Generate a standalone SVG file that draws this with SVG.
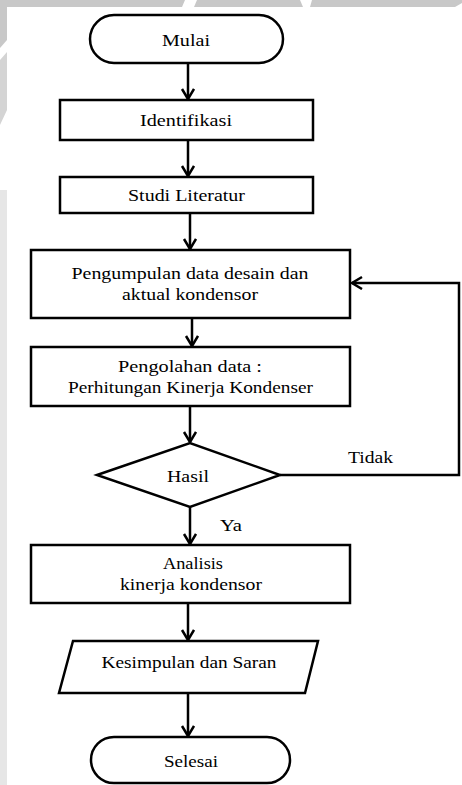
<svg xmlns="http://www.w3.org/2000/svg" width="462" height="785" viewBox="0 0 462 785">
<style>
.shape{fill:#fff;stroke:#000;stroke-width:2.5}
.conn{fill:none;stroke:#000;stroke-width:2.5}
text{font-family:"Liberation Serif","Times New Roman",serif;font-size:17px;fill:#000;text-anchor:middle}
.lbl{text-anchor:start}
</style>
<defs>
<marker id="arr" markerUnits="userSpaceOnUse" markerWidth="16" markerHeight="16" refX="11" refY="7" orient="auto">
<path d="M1,1 L11,7 L1,13" fill="none" stroke="#000" stroke-width="2.5"/>
</marker>
</defs>
<rect x="0" y="0" width="462" height="785" fill="#fff"/>
<g id="watermark" fill="#c8c8c8">
<path d="M0,0 H185 L182,7 H7 V40 L0,48 Z"/>
<path d="M197,0 H300 L303,7 H194 Z"/>
<path d="M312,0 H462 V3 L455,7 H310 Z"/>
<path d="M0,60 L7,52 V110 L0,125 Z" fill="#d4d4d4"/>
<path d="M0,190 H7 V785 H0 Z" fill="#e6e6e6"/>
</g>
<g id="connectors">
<line class="conn" x1="188" y1="63" x2="188" y2="99" marker-end="url(#arr)"/>
<line class="conn" x1="188" y1="140" x2="188" y2="176" marker-end="url(#arr)"/>
<line class="conn" x1="190" y1="213" x2="190" y2="249" marker-end="url(#arr)"/>
<line class="conn" x1="192" y1="318" x2="192" y2="346" marker-end="url(#arr)"/>
<line class="conn" x1="190" y1="406" x2="190" y2="442" marker-end="url(#arr)"/>
<line class="conn" x1="190" y1="507" x2="190" y2="544" marker-end="url(#arr)"/>
<line class="conn" x1="188" y1="603" x2="188" y2="640" marker-end="url(#arr)"/>
<line class="conn" x1="188" y1="693" x2="188" y2="736" marker-end="url(#arr)"/>
<polyline class="conn" points="280,475 459,475 459,283 352,283" marker-end="url(#arr)"/>
<text class="lbl" x="348" y="463" textLength="45" lengthAdjust="spacingAndGlyphs">Tidak</text>
<text class="lbl" x="220" y="531" textLength="22" lengthAdjust="spacingAndGlyphs">Ya</text>
</g>
<g id="mulai">
<rect class="shape" x="90" y="15" width="193" height="48" rx="24" ry="24"/>
<text x="186" y="46" textLength="48" lengthAdjust="spacingAndGlyphs">Mulai</text>
</g>
<g id="identifikasi">
<rect class="shape" x="60" y="100" width="253" height="40"/>
<text x="186" y="126" textLength="92" lengthAdjust="spacingAndGlyphs">Identifikasi</text>
</g>
<g id="studi">
<rect class="shape" x="60" y="177" width="253" height="36"/>
<text x="186.5" y="201" textLength="117" lengthAdjust="spacingAndGlyphs">Studi Literatur</text>
</g>
<g id="pengumpulan">
<rect class="shape" x="31" y="250" width="319" height="68"/>
<text x="190" y="279" textLength="237" lengthAdjust="spacingAndGlyphs">Pengumpulan data desain dan</text>
<text x="190" y="300" textLength="136" lengthAdjust="spacingAndGlyphs">aktual kondensor</text>
</g>
<g id="pengolahan">
<rect class="shape" x="31" y="347" width="319" height="59"/>
<text x="190" y="372" textLength="144" lengthAdjust="spacingAndGlyphs">Pengolahan data :</text>
<text x="190.5" y="393" textLength="245" lengthAdjust="spacingAndGlyphs">Perhitungan Kinerja Kondenser</text>
</g>
<g id="hasil">
<polygon class="shape" points="97,475 190,443 280,475 190,507"/>
<text x="188" y="482" textLength="42" lengthAdjust="spacingAndGlyphs">Hasil</text>
</g>
<g id="analisis">
<rect class="shape" x="31" y="545" width="319" height="58"/>
<text x="193" y="569" textLength="60" lengthAdjust="spacingAndGlyphs">Analisis</text>
<text x="191" y="590" textLength="142" lengthAdjust="spacingAndGlyphs">kinerja kondensor</text>
</g>
<g id="kesimpulan">
<polygon class="shape" points="73,641 318,641 305,693 59,693"/>
<text x="189" y="668" textLength="175" lengthAdjust="spacingAndGlyphs">Kesimpulan dan Saran</text>
</g>
<g id="selesai">
<rect class="shape" x="91" y="737" width="199" height="46" rx="23" ry="23"/>
<text x="191" y="767" textLength="54" lengthAdjust="spacingAndGlyphs">Selesai</text>
</g>
</svg>
